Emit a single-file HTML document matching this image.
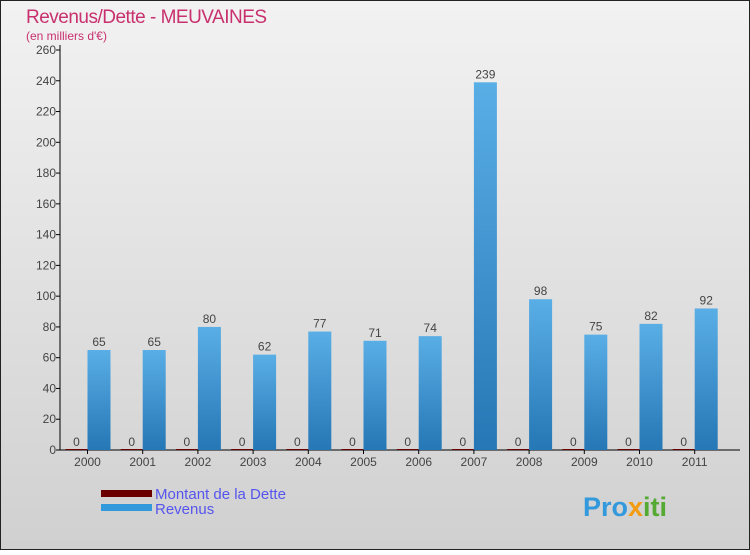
<!DOCTYPE html>
<html><head><meta charset="utf-8"><style>
body{margin:0;width:750px;height:550px;overflow:hidden;font-family:"Liberation Sans",sans-serif}
</style></head><body>
<svg width="750" height="550" xmlns="http://www.w3.org/2000/svg">
<defs>
<linearGradient id="bg" x1="0" y1="0" x2="0" y2="1"><stop offset="0" stop-color="#f2f2f2"/><stop offset="1" stop-color="#d0d0d0"/></linearGradient>
<linearGradient id="bar" x1="0" y1="0" x2="0" y2="1"><stop offset="0" stop-color="#5aaee6"/><stop offset="1" stop-color="#2577b5"/></linearGradient>
</defs>
<rect x="0.5" y="0.5" width="749" height="549" fill="url(#bg)" stroke="#222"/>
<text x="26" y="23" font-size="19" fill="#c8306e" style="letter-spacing:-0.5px">Revenus/Dette - MEUVAINES</text>
<text x="26" y="40" font-size="12" fill="#c8306e">(en milliers d'€)</text>
<g id="axes"></g>
<g id="bars"></g>
<g>
<rect x="101" y="490" width="51" height="7" fill="#6b0000"/>
<text x="155" y="499" font-size="15" fill="#5555ee">Montant de la Dette</text>
<rect x="101" y="504" width="51" height="7" fill="#3399dd"/>
<text x="155" y="514" font-size="15" fill="#5555ee">Revenus</text>
</g>
<text x="583" y="516" font-size="27" font-weight="bold" fill="#3399dd">Pro<tspan fill="#f39c12">x</tspan><tspan fill="#55aa33">iti</tspan></text>
</svg>
<script>
const years=["2000","2001","2002","2003","2004","2005","2006","2007","2008","2009","2010","2011"];
const dette=[0,0,0,0,0,0,0,0,0,0,0,0];
const revenus=[65,65,80,62,77,71,74,239,98,75,82,92];
const yTicks=[0,20,40,60,80,100,120,140,160,180,200,220,240,260];
const NS="http://www.w3.org/2000/svg";
const x0=60,band=55.2,y0=450,yMax=260,ph=400;
const y=v=>y0-v/yMax*ph;
const cx=i=>x0+band*i+27.5;
function mk(t,a,p,txt){const e=document.createElementNS(NS,t);for(const k in a)e.setAttribute(k,a[k]);if(txt!==undefined)e.textContent=txt;p.appendChild(e);return e;}
const ax=document.getElementById('axes'),bg=document.getElementById('bars');
let l=mk('line',{x1:x0,y1:y0,x2:740,y2:y0,stroke:'#000'},ax);


l=mk('line',{x1:x0,y1:y0,x2:x0,y2:45,stroke:'#000'},ax);


yTicks.forEach(v=>{
 const t=mk('line',{x1:x0-4,y1:y(v),x2:x0,y2:y(v),stroke:'#000'},ax);
 
 
 const s=mk('text',{x:x0-4,y:y(v)+4,'font-size':12,fill:'#444','text-anchor':'end'},ax,v);
 
 
});
years.forEach((yr,i)=>{
 const c=cx(i);
 const t=mk('line',{x1:c,y1:y0,x2:c,y2:y0+4,stroke:'#000'},ax);
 
 
 const s=mk('text',{x:c,y:y0+16,'font-size':12,fill:'#444','text-anchor':'middle'},ax,yr);
 
 
 const dh=Math.max(dette[i]/yMax*ph,1);
 const d=mk('rect',{x:c-22,y:y(dette[i])-(dette[i]?0:1),width:22,height:dh,fill:'#6b0000'},bg);
 
 
 const dl=mk('text',{x:c-11,y:y(dette[i])-4,'font-size':12,fill:'#444','text-anchor':'middle'},bg,dette[i]);
 
 
 const r=mk('rect',{x:c,y:y(revenus[i]),width:23,height:revenus[i]/yMax*ph,fill:'url(#bar)'},bg);
 
 
 const rl=mk('text',{x:c+11.5,y:y(revenus[i])-4,'font-size':12,fill:'#444','text-anchor':'middle'},bg,revenus[i]);
 
 
});
</script>
</body></html>
